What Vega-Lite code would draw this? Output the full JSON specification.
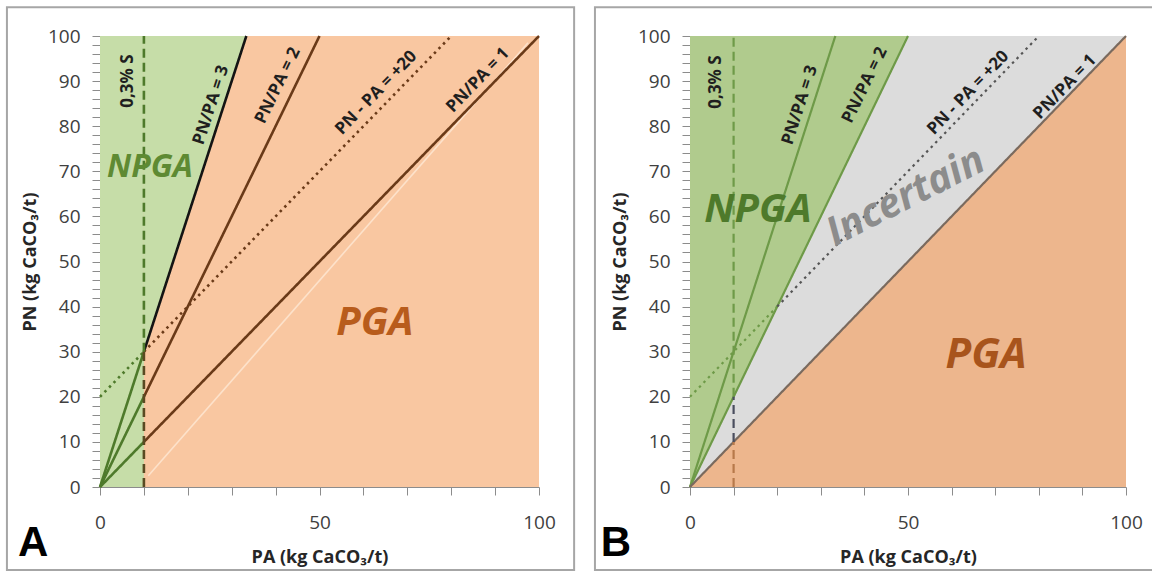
{
  "$schema": "https://vega.github.io/schema/vega-lite/v6.json",
  "background": "white",
  "padding": {"left": 5, "top": 6, "right": 0, "bottom": 0},
  "spacing": 17,
  "resolve": {"scale": {"color": "independent", "strokeDash": "independent"}},
  "config": {
    "view": {"stroke": null},
    "font": "Open Sans",
    "axis": {
      "grid": false,
      "domainColor": "#8C8C8C",
      "tickColor": "#8C8C8C",
      "tickSize": 8,
      "labelFont": "Open Sans",
      "labelFontSize": 19,
      "labelColor": "#404040",
      "titleFont": "Open Sans",
      "titleFontSize": 18,
      "titleFontWeight": "bold",
      "titleColor": "#262626",
      "labelOverlap": false,
      "labelFlush": false
    }
  },
  "datasets": {
    "plotArea": [{"PA": 0, "PA2": 100, "PN": 0, "PN2": 100}],
    "linesA": [
      {"seg": "r3lo", "tone": "green", "kind": "solid", "PA": 0, "PN": 0},
      {"seg": "r3lo", "tone": "green", "kind": "solid", "PA": 10, "PN": 30},
      {"seg": "r3hi", "tone": "black", "kind": "solid", "PA": 10, "PN": 30},
      {"seg": "r3hi", "tone": "black", "kind": "solid", "PA": 33.333, "PN": 100},
      {"seg": "r2lo", "tone": "green", "kind": "solid", "PA": 0, "PN": 0},
      {"seg": "r2lo", "tone": "green", "kind": "solid", "PA": 10, "PN": 20},
      {"seg": "r2hi", "tone": "brown", "kind": "solid", "PA": 10, "PN": 20},
      {"seg": "r2hi", "tone": "brown", "kind": "solid", "PA": 50, "PN": 100},
      {"seg": "r1lo", "tone": "green", "kind": "solid", "PA": 0, "PN": 0},
      {"seg": "r1lo", "tone": "green", "kind": "solid", "PA": 10, "PN": 10},
      {"seg": "r1hi", "tone": "brown", "kind": "solid", "PA": 10, "PN": 10},
      {"seg": "r1hi", "tone": "brown", "kind": "solid", "PA": 100, "PN": 100},
      {"seg": "d20lo", "tone": "green", "kind": "dotted", "PA": 0, "PN": 20},
      {"seg": "d20lo", "tone": "green", "kind": "dotted", "PA": 10, "PN": 30},
      {"seg": "d20hi", "tone": "brown", "kind": "dotted", "PA": 10, "PN": 30},
      {"seg": "d20hi", "tone": "brown", "kind": "dotted", "PA": 80, "PN": 100},
      {"seg": "s03hi", "tone": "green", "kind": "dashed", "PA": 10, "PN": 30},
      {"seg": "s03hi", "tone": "green", "kind": "dashed", "PA": 10, "PN": 100},
      {"seg": "s03lo", "tone": "olive", "kind": "dashed", "PA": 10, "PN": 0},
      {"seg": "s03lo", "tone": "olive", "kind": "dashed", "PA": 10, "PN": 30}
    ],
    "linesB": [
      {"seg": "r3", "tone": "green", "kind": "solid", "PA": 0, "PN": 0},
      {"seg": "r3", "tone": "green", "kind": "solid", "PA": 33.333, "PN": 100},
      {"seg": "r2", "tone": "green", "kind": "solid", "PA": 0, "PN": 0},
      {"seg": "r2", "tone": "green", "kind": "solid", "PA": 50, "PN": 100},
      {"seg": "r1", "tone": "taupe", "kind": "solid", "PA": 0, "PN": 0},
      {"seg": "r1", "tone": "taupe", "kind": "solid", "PA": 100, "PN": 100},
      {"seg": "d20lo", "tone": "green", "kind": "dotted", "PA": 0, "PN": 20},
      {"seg": "d20lo", "tone": "green", "kind": "dotted", "PA": 20, "PN": 40},
      {"seg": "d20hi", "tone": "gray", "kind": "dotted", "PA": 20, "PN": 40},
      {"seg": "d20hi", "tone": "gray", "kind": "dotted", "PA": 80, "PN": 100},
      {"seg": "s03hi", "tone": "green", "kind": "dashed", "PA": 10, "PN": 20},
      {"seg": "s03hi", "tone": "green", "kind": "dashed", "PA": 10, "PN": 100},
      {"seg": "s03mid", "tone": "slate", "kind": "dashed", "PA": 10, "PN": 10},
      {"seg": "s03mid", "tone": "slate", "kind": "dashed", "PA": 10, "PN": 20},
      {"seg": "s03lo", "tone": "rust", "kind": "dashed", "PA": 10, "PN": 0},
      {"seg": "s03lo", "tone": "rust", "kind": "dashed", "PA": 10, "PN": 10}
    ]
  },
  "hconcat": [
    {
      "width": 439,
      "height": 451,
      "layer": [
        {
          "data": {"name": "linesA"},
          "mark": {"type": "line", "strokeWidth": 2.6, "strokeCap": "butt", "opacity": 0},
          "encoding": {
            "x": {"field": "PA", "type": "quantitative", "title": "PA (kg CaCO₃/t)", "scale": {"domain": [0, 100], "nice": false},
              "axis": {"values": [0, 10, 20, 30, 40, 50, 60, 70, 80, 90, 100], "tickCount": 200, "format": "d",
                "labelExpr": "datum.value % 50 === 0 ? datum.label : ''", "labelPadding": 18, "labelOverlap": false,
                "titleY": 70, "titleBaseline": "middle"}},
            "y": {"field": "PN", "type": "quantitative", "title": "PN (kg CaCO₃/t)", "scale": {"domain": [0, 100], "nice": false},
              "axis": {"values": [0, 2, 4, 6, 8, 10, 12, 14, 16, 18, 20, 22, 24, 26, 28, 30, 32, 34, 36, 38, 40, 42, 44, 46, 48, 50, 52, 54, 56, 58, 60, 62, 64, 66, 68, 70, 72, 74, 76, 78, 80, 82, 84, 86, 88, 90, 92, 94, 96, 98, 100], "tickCount": 200, "format": "d",
                "labelExpr": "datum.value % 10 === 0 ? datum.label : ''", "labelPadding": 12, "labelOverlap": false,
                "titleX": -70, "titleBaseline": "middle"}},
            "detail": {"field": "seg"}
          }
        },
        {
          "data": {"name": "plotArea"},
          "mark": {"type": "rect", "fill": "#F9C7A1"},
          "encoding": {
            "x": {"field": "PA", "type": "quantitative"}, "x2": {"field": "PA2"},
            "y": {"field": "PN", "type": "quantitative"}, "y2": {"field": "PN2"}
          }
        },
        {
          "data": {"values": [{"PA": -21.2, "PA2": 108, "PN": -18.4, "PN2": 106.4}]},
          "mark": {"type": "rect", "fill": "white", "fillOpacity": 0, "stroke": "#A6A6A6", "strokeWidth": 2},
          "encoding": {
            "x": {"field": "PA", "type": "quantitative"}, "x2": {"field": "PA2"},
            "y": {"field": "PN", "type": "quantitative"}, "y2": {"field": "PN2"}
          }
        },
        {
          "data": {"values": [{"PA": 0, "PA2": 10, "PN": 0, "PN2": 100}]},
          "mark": {"type": "rect", "fill": "#C6DDA8"},
          "encoding": {
            "x": {"field": "PA", "type": "quantitative"}, "x2": {"field": "PA2"},
            "y": {"field": "PN", "type": "quantitative"}, "y2": {"field": "PN2"}
          }
        },
        {
          "data": {"values": [{"PA": 10, "PN": 30, "PN2": 100}, {"PA": 33.333, "PN": 100, "PN2": 100}]},
          "mark": {"type": "area", "fill": "#C6DDA8", "orient": "vertical"},
          "encoding": {
            "x": {"field": "PA", "type": "quantitative"},
            "y": {"field": "PN", "type": "quantitative"},
            "y2": {"field": "PN2"}
          }
        },
        {
          "data": {"values": [{"PA": 11, "PN": 2.5}, {"PA": 97.5, "PN": 98.5}]},
          "mark": {"type": "line", "color": "#FDE2CB", "strokeWidth": 1.6},
          "encoding": {
            "x": {"field": "PA", "type": "quantitative"},
            "y": {"field": "PN", "type": "quantitative"}
          }
        },
        {
          "data": {"name": "linesA"},
          "mark": {"type": "line", "strokeWidth": 2.6, "strokeCap": "butt"},
          "encoding": {
            "x": {"field": "PA", "type": "quantitative"},
            "y": {"field": "PN", "type": "quantitative"},
            "detail": {"field": "seg"},
            "color": {"field": "tone", "type": "nominal", "legend": null,
              "scale": {"domain": ["green", "black", "brown", "olive"], "range": ["#4E7A2B", "#141414", "#6A3A18", "#5A4A22"]}},
            "strokeDash": {"field": "kind", "type": "nominal", "legend": null,
              "scale": {"domain": ["solid", "dashed", "dotted"], "range": [[1, 0], [9, 5], [2.5, 4]]}}
          }
        },
        {
          "data": {"values": [{"PA": 6.4, "PN": 90}]},
          "mark": {"type": "text", "text": "0,3% S", "angle": -90, "fontSize": 17, "fontWeight": "bold", "color": "#1F1F1F"},
          "encoding": {"x": {"field": "PA", "type": "quantitative"}, "y": {"field": "PN", "type": "quantitative"}}
        },
        {
          "data": {"values": [{"PA": 25.3, "PN": 84.7}]},
          "mark": {"type": "text", "text": "PN/PA = 3", "angle": -72, "fontSize": 17, "fontWeight": "bold", "color": "#1F1F1F"},
          "encoding": {"x": {"field": "PA", "type": "quantitative"}, "y": {"field": "PN", "type": "quantitative"}}
        },
        {
          "data": {"values": [{"PA": 40.5, "PN": 89}]},
          "mark": {"type": "text", "text": "PN/PA = 2", "angle": -64, "fontSize": 17, "fontWeight": "bold", "color": "#1F1F1F"},
          "encoding": {"x": {"field": "PA", "type": "quantitative"}, "y": {"field": "PN", "type": "quantitative"}}
        },
        {
          "data": {"values": [{"PA": 62.9, "PN": 87.4}]},
          "mark": {"type": "text", "text": "PN - PA = +20", "angle": -46, "fontSize": 17, "fontWeight": "bold", "color": "#1F1F1F"},
          "encoding": {"x": {"field": "PA", "type": "quantitative"}, "y": {"field": "PN", "type": "quantitative"}}
        },
        {
          "data": {"values": [{"PA": 86.1, "PN": 90.2}]},
          "mark": {"type": "text", "text": "PN/PA = 1", "angle": -46, "fontSize": 17, "fontWeight": "bold", "color": "#1F1F1F"},
          "encoding": {"x": {"field": "PA", "type": "quantitative"}, "y": {"field": "PN", "type": "quantitative"}}
        },
        {
          "data": {"values": [{"PA": 11.4, "PN": 71}]},
          "mark": {"type": "text", "text": "NPGA", "fontSize": 32, "fontWeight": "bold", "fontStyle": "italic", "color": "#5E8A33"},
          "encoding": {"x": {"field": "PA", "type": "quantitative"}, "y": {"field": "PN", "type": "quantitative"}}
        },
        {
          "data": {"values": [{"PA": 62.6, "PN": 36.4}]},
          "mark": {"type": "text", "text": "PGA", "fontSize": 40, "fontWeight": "bold", "fontStyle": "italic", "color": "#B85C1C"},
          "encoding": {"x": {"field": "PA", "type": "quantitative"}, "y": {"field": "PN", "type": "quantitative"}}
        },
        {
          "data": {"values": [{"PA": -15.2, "PN": -12.5}]},
          "mark": {"type": "text", "text": "A", "font": "Liberation Sans", "fontSize": 42, "fontWeight": "bold", "color": "#000000"},
          "encoding": {"x": {"field": "PA", "type": "quantitative"}, "y": {"field": "PN", "type": "quantitative"}}
        }
      ]
    },
    {
      "width": 436,
      "height": 451,
      "layer": [
        {
          "data": {"name": "linesB"},
          "mark": {"type": "line", "strokeWidth": 2.2, "strokeCap": "butt", "opacity": 0},
          "encoding": {
            "x": {"field": "PA", "type": "quantitative", "title": "PA (kg CaCO₃/t)", "scale": {"domain": [0, 100], "nice": false},
              "axis": {"values": [0, 10, 20, 30, 40, 50, 60, 70, 80, 90, 100], "tickCount": 200, "format": "d",
                "labelExpr": "datum.value % 50 === 0 ? datum.label : ''", "labelPadding": 18, "labelOverlap": false,
                "titleY": 70, "titleBaseline": "middle"}},
            "y": {"field": "PN", "type": "quantitative", "title": "PN (kg CaCO₃/t)", "scale": {"domain": [0, 100], "nice": false},
              "axis": {"values": [0, 2, 4, 6, 8, 10, 12, 14, 16, 18, 20, 22, 24, 26, 28, 30, 32, 34, 36, 38, 40, 42, 44, 46, 48, 50, 52, 54, 56, 58, 60, 62, 64, 66, 68, 70, 72, 74, 76, 78, 80, 82, 84, 86, 88, 90, 92, 94, 96, 98, 100], "tickCount": 200, "format": "d",
                "labelExpr": "datum.value % 10 === 0 ? datum.label : ''", "labelPadding": 12, "labelOverlap": false,
                "titleX": -70, "titleBaseline": "middle"}},
            "detail": {"field": "seg"}
          }
        },
        {
          "data": {"name": "plotArea"},
          "mark": {"type": "rect", "fill": "#EDB68D"},
          "encoding": {
            "x": {"field": "PA", "type": "quantitative"}, "x2": {"field": "PA2"},
            "y": {"field": "PN", "type": "quantitative"}, "y2": {"field": "PN2"}
          }
        },
        {
          "data": {"values": [{"PA": -21.8, "PA2": 108, "PN": -18.4, "PN2": 106.4}]},
          "mark": {"type": "rect", "fill": "white", "fillOpacity": 0, "stroke": "#A6A6A6", "strokeWidth": 2},
          "encoding": {
            "x": {"field": "PA", "type": "quantitative"}, "x2": {"field": "PA2"},
            "y": {"field": "PN", "type": "quantitative"}, "y2": {"field": "PN2"}
          }
        },
        {
          "data": {"values": [{"PA": 0, "PN": 0, "PN2": 0}, {"PA": 50, "PN": 50, "PN2": 100}, {"PA": 100, "PN": 100, "PN2": 100}]},
          "mark": {"type": "area", "fill": "#DCDCDC", "orient": "vertical"},
          "encoding": {
            "x": {"field": "PA", "type": "quantitative"},
            "y": {"field": "PN", "type": "quantitative"},
            "y2": {"field": "PN2"}
          }
        },
        {
          "data": {"values": [{"PA": 0, "PN": 0, "PN2": 100}, {"PA": 50, "PN": 100, "PN2": 100}]},
          "mark": {"type": "area", "fill": "#B0CB8D", "orient": "vertical"},
          "encoding": {
            "x": {"field": "PA", "type": "quantitative"},
            "y": {"field": "PN", "type": "quantitative"},
            "y2": {"field": "PN2"}
          }
        },
        {
          "data": {"name": "linesB"},
          "mark": {"type": "line", "strokeWidth": 2.2, "strokeCap": "butt"},
          "encoding": {
            "x": {"field": "PA", "type": "quantitative"},
            "y": {"field": "PN", "type": "quantitative"},
            "detail": {"field": "seg"},
            "color": {"field": "tone", "type": "nominal", "legend": null,
              "scale": {"domain": ["green", "taupe", "gray", "slate", "rust"], "range": ["#6E9A48", "#7A6A5E", "#555555", "#4A4E5E", "#B7794A"]}},
            "strokeDash": {"field": "kind", "type": "nominal", "legend": null,
              "scale": {"domain": ["solid", "dashed", "dotted"], "range": [[1, 0], [9, 5], [2.5, 4]]}}
          }
        },
        {
          "data": {"values": [{"PA": 6.0, "PN": 89.8}]},
          "mark": {"type": "text", "text": "0,3% S", "angle": -90, "fontSize": 17, "fontWeight": "bold", "color": "#1F1F1F"},
          "encoding": {"x": {"field": "PA", "type": "quantitative"}, "y": {"field": "PN", "type": "quantitative"}}
        },
        {
          "data": {"values": [{"PA": 25.2, "PN": 84.7}]},
          "mark": {"type": "text", "text": "PN/PA = 3", "angle": -72, "fontSize": 17, "fontWeight": "bold", "color": "#1F1F1F"},
          "encoding": {"x": {"field": "PA", "type": "quantitative"}, "y": {"field": "PN", "type": "quantitative"}}
        },
        {
          "data": {"values": [{"PA": 40.1, "PN": 89.1}]},
          "mark": {"type": "text", "text": "PN/PA = 2", "angle": -64, "fontSize": 17, "fontWeight": "bold", "color": "#1F1F1F"},
          "encoding": {"x": {"field": "PA", "type": "quantitative"}, "y": {"field": "PN", "type": "quantitative"}}
        },
        {
          "data": {"values": [{"PA": 63.8, "PN": 87.4}]},
          "mark": {"type": "text", "text": "PN - PA = +20", "angle": -46, "fontSize": 17, "fontWeight": "bold", "color": "#1F1F1F"},
          "encoding": {"x": {"field": "PA", "type": "quantitative"}, "y": {"field": "PN", "type": "quantitative"}}
        },
        {
          "data": {"values": [{"PA": 86, "PN": 88.7}]},
          "mark": {"type": "text", "text": "PN/PA = 1", "angle": -46, "fontSize": 17, "fontWeight": "bold", "color": "#1F1F1F"},
          "encoding": {"x": {"field": "PA", "type": "quantitative"}, "y": {"field": "PN", "type": "quantitative"}}
        },
        {
          "data": {"values": [{"PA": 15.6, "PN": 61.4}]},
          "mark": {"type": "text", "text": "NPGA", "fontSize": 40, "fontWeight": "bold", "fontStyle": "italic", "color": "#4E7A2B"},
          "encoding": {"x": {"field": "PA", "type": "quantitative"}, "y": {"field": "PN", "type": "quantitative"}}
        },
        {
          "data": {"values": [{"PA": 49.5, "PN": 64.3}]},
          "mark": {"type": "text", "text": "Incertain", "angle": -27, "fontSize": 40, "fontWeight": "bold", "fontStyle": "italic", "color": "#8C8C8C"},
          "encoding": {"x": {"field": "PA", "type": "quantitative"}, "y": {"field": "PN", "type": "quantitative"}}
        },
        {
          "data": {"values": [{"PA": 67.9, "PN": 29.3}]},
          "mark": {"type": "text", "text": "PGA", "fontSize": 42, "fontWeight": "bold", "fontStyle": "italic", "color": "#A8541C"},
          "encoding": {"x": {"field": "PA", "type": "quantitative"}, "y": {"field": "PN", "type": "quantitative"}}
        },
        {
          "data": {"values": [{"PA": -17, "PN": -12.5}]},
          "mark": {"type": "text", "text": "B", "font": "Liberation Sans", "fontSize": 42, "fontWeight": "bold", "color": "#000000"},
          "encoding": {"x": {"field": "PA", "type": "quantitative"}, "y": {"field": "PN", "type": "quantitative"}}
        }
      ]
    }
  ]
}
